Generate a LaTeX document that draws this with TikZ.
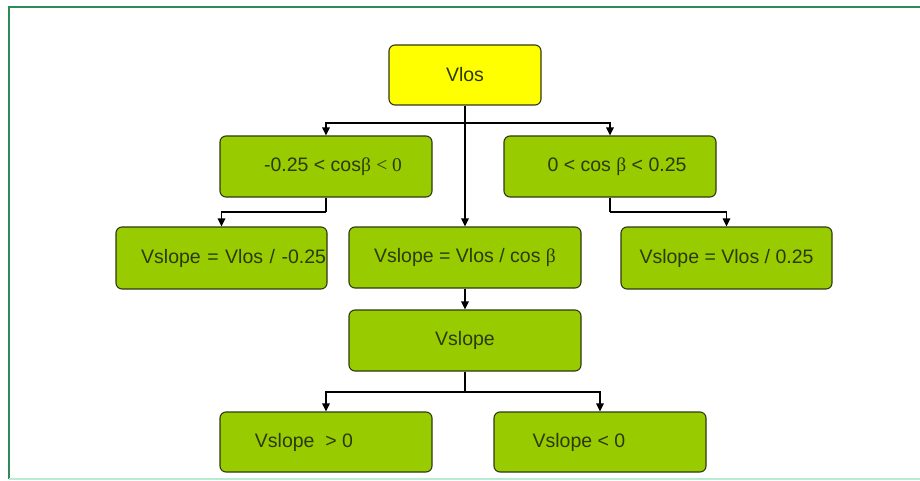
\documentclass[tikz,border=0pt]{standalone}
\usepackage{fontspec}
\setmainfont{Liberation Sans}
\newfontfamily\symfont{Liberation Serif}
\usetikzlibrary{arrows.meta}
\definecolor{boxgreen}{HTML}{99CC00}
\definecolor{boxyellow}{HTML}{FFFF00}
\definecolor{boxedge}{HTML}{2F3A10}
\definecolor{boxtext}{HTML}{2B3A0A}
\definecolor{framegreen}{HTML}{2E8B57}
\definecolor{framelight}{HTML}{B8EBD0}
\newcommand{\bt}{{\symfont β}}
\tikzset{
  box/.style={draw=boxedge, line width=1.1pt, rounded corners=6pt, fill=boxgreen,
    text=boxtext, font=\fontsize{19.5}{22}\selectfont, inner sep=0pt},
  wbox/.style={box, minimum width=212pt, minimum height=61pt},
  link/.style={line width=1.5pt, draw=black},
  arr/.style={link, -{Triangle[length=8pt, width=7.5pt]}}
}
\begin{document}
\begin{tikzpicture}[x=1pt, y=-1pt]
  \useasboundingbox (0,0) rectangle (920,481);
  \fill[white] (0,0) rectangle (920,481);
  % page frame
  \draw[framegreen, line width=1.5pt] (920,7) -- (9,7) -- (9,479);
  \draw[framelight, line width=1.5pt] (9,479) -- (920,479);

  % boxes
  \node[box, fill=boxyellow, minimum width=152pt, minimum height=60pt] (vlos) at (465,75) {Vlos};
  \node[wbox] (cneg) at (326,166.5) {\hspace*{14pt}-0.25 < cos\bt\ {\symfont< 0}};
  \node[wbox] (cpos) at (610,166.5) {\hspace*{14pt}0 < cos \bt\ < 0.25};
  \node[wbox, minimum width=211pt, minimum height=62pt, align=right, text width=209pt] (vneg) at (221.5,258) {Vslope = Vlos / -0.25};
  \node[wbox, minimum width=232pt] (vcos) at (465,257.5) {Vslope = Vlos / cos \bt};
  \node[wbox, minimum width=211pt, minimum height=62pt] (vpos) at (726.5,258) {Vslope = Vlos / 0.25};
  \node[wbox, minimum width=232pt] (vs) at (465,340.5) {Vslope};
  \node[wbox, minimum height=60pt] (gt) at (326,442) {Vslope\ \ > 0\hspace*{44pt}};
  \node[wbox, minimum height=60pt] (lt) at (600,442) {Vslope < 0\hspace*{42pt}};

  % connectors
  \coordinate (j1) at (465,123);
  \draw[link] (vlos.south) -- (j1);
  \draw[arr] (j1) -| (cneg.north);
  \draw[arr] (j1) -| (cpos.north);
  \draw[arr] (j1) -- (vcos.north);

  \coordinate (j2) at (326,212);
  \draw[link] (cneg.south) -- (j2);
  \draw[arr] (j2) -| (vneg.north);

  \coordinate (j3) at (610,212);
  \draw[link] (cpos.south) -- (j3);
  \draw[arr] (j3) -| (vpos.north);

  \draw[arr] (vcos.south) -- (vs.north);

  \coordinate (j4) at (465,392);
  \draw[link] (vs.south) -- (j4);
  \draw[arr] (j4) -| (gt.north);
  \draw[arr] (j4) -| (lt.north);
\end{tikzpicture}
\end{document}
